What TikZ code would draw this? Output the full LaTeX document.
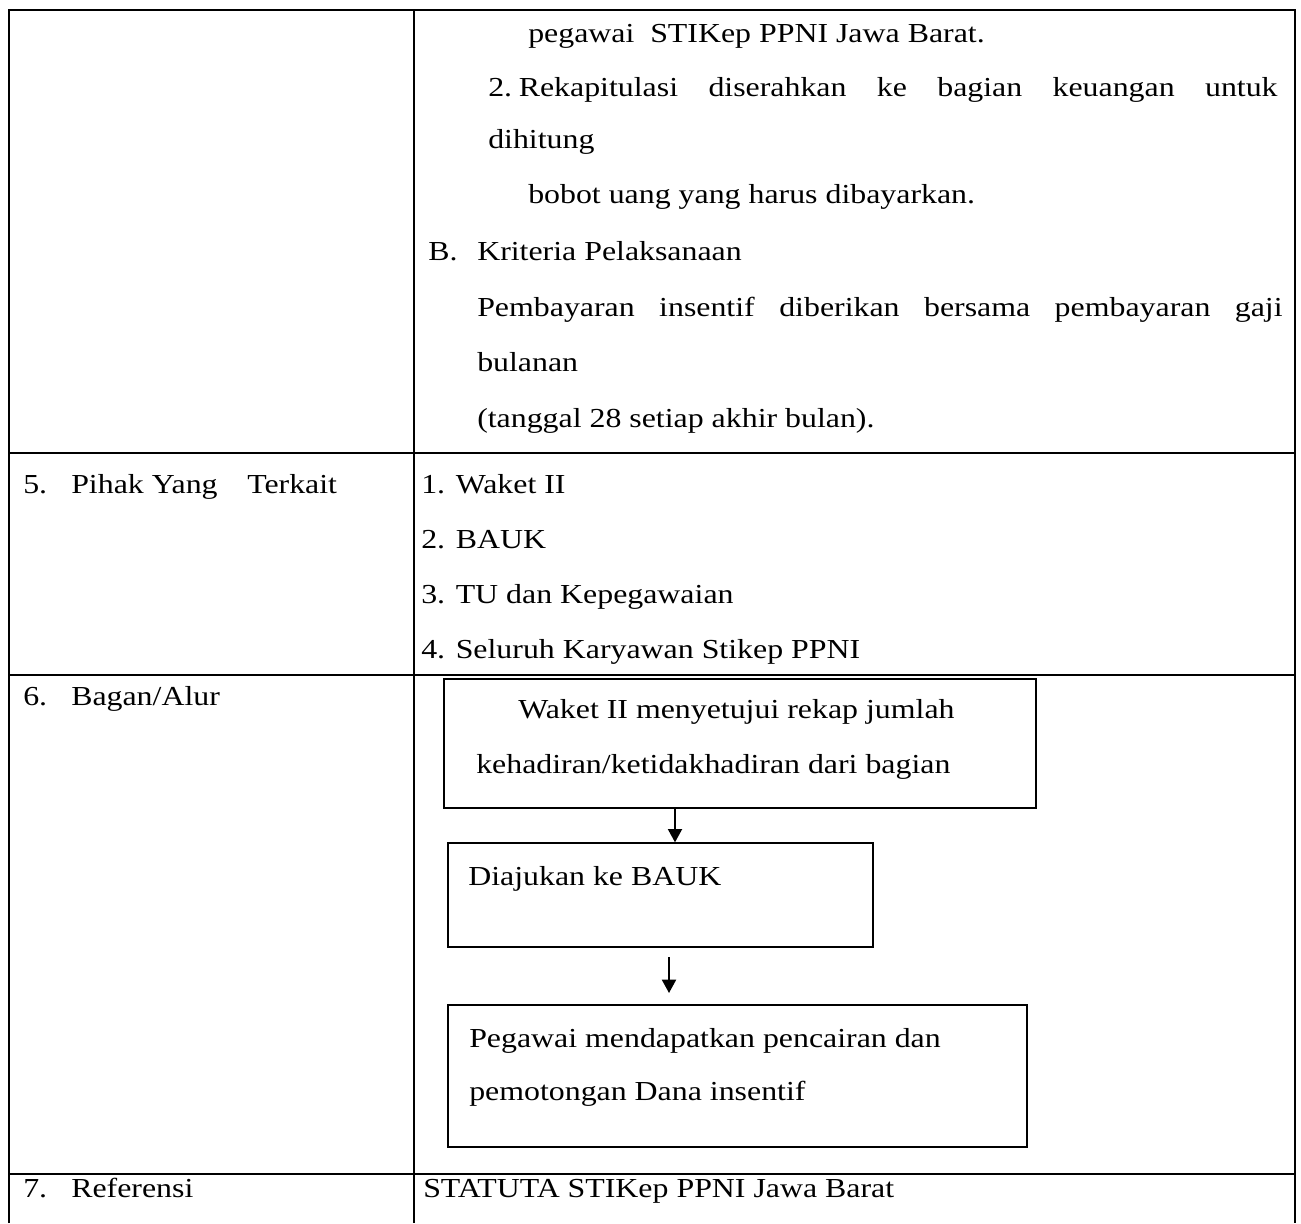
\documentclass[tikz,border=0pt]{standalone}
\usepackage{fontspec}
\setmainfont{Liberation Serif}[FakeStretch=1.16]
\usetikzlibrary{fit,arrows.meta}
\begin{document}
\begin{tikzpicture}[x=0.75pt,y=-0.75pt,
  txt/.style={anchor=base west,inner sep=0pt,font=\fontsize{20.6}{25}\selectfont},
  grid/.style={line width=1.5pt},
  flowbox/.style={draw,line width=1pt,inner sep=0pt},
  arr/.style={line width=1.5pt,-{Triangle[width=10.5pt,length=10pt]}}]
\useasboundingbox (0,0) rectangle (1301,1223);

% table rules
\draw[grid] (9,1223) -- (9,10.5) -- (1295,10.5) -- (1295,1223);
\draw[grid] (414,10.5) -- (414,1223);
\draw[grid] (9,453) -- (1295,453);
\draw[grid] (9,675) -- (1295,675);
\draw[grid] (9,1174) -- (1295,1174);

% continued section text
\node[txt] (t1a) at (528,43) {pegawai};
\node[txt] (t1b) at (650,43) {STIKep PPNI Jawa Barat.};
\node[txt] (t2) at (488,97) {\makebox[592pt][s]{2.\hspace{5pt}Rekapitulasi diserahkan ke bagian keuangan untuk}};
\node[txt] (t3) at (488,149) {dihitung};
\node[txt] (t4) at (528,204) {bobot uang yang harus dibayarkan.};
\node[txt] (t5a) at (428,260) {B.};
\node[txt] (t5b) at (477,260) {Kriteria Pelaksanaan};
\node[txt] (t6) at (477,316) {\makebox[604pt][s]{Pembayaran insentif diberikan bersama pembayaran gaji}};
\node[txt] (t7) at (477,371) {bulanan};
\node[txt] (t8) at (477,427) {(tanggal 28 setiap akhir bulan).};

% row 5
\node[txt] (n5) at (23,493) {5.};
\node[txt] (h5a) at (71,493) {Pihak Yang};
\node[txt] (h5b) at (247,493) {Terkait};
\node[txt] (p1) at (421,493) {1. Waket II};
\node[txt] (p2) at (421,548) {2. BAUK};
\node[txt] (p3) at (421,603) {3. TU dan Kepegawaian};
\node[txt] (p4) at (421,658) {4. Seluruh Karyawan Stikep PPNI};

% row 6
\node[txt] (n6) at (23,705) {6.};
\node[txt] (h6) at (71,705) {Bagan/Alur};

\node[flowbox, fit={(444,679) (1036,808)}] (b1) {};
\node[txt] (b1l1) at (518,718) {Waket II menyetujui rekap jumlah};
\node[txt] (b1l2) at (476,773) {kehadiran/ketidakhadiran dari bagian};

\node[flowbox, fit={(448,843) (873,947)}] (b2) {};
\node[txt] (b2l1) at (468,885) {Diajukan ke BAUK};

\node[flowbox, fit={(448,1005) (1027,1147)}] (b3) {};
\node[txt] (b3l1) at (469,1047) {Pegawai mendapatkan pencairan dan};
\node[txt] (b3l2) at (469,1100) {pemotongan Dana insentif};

\coordinate (a1) at (675,808);
\draw[arr] (a1) -- (b2.north -| a1);
\coordinate (a2s) at (669,957);
\coordinate (a2e) at (669,993);
\draw[arr] (a2s) -- (a2e);

% row 7
\node[txt] (n7) at (23,1197) {7.};
\node[txt] (h7) at (71,1197) {Referensi};
\node[txt] (r7) at (423,1197) {STATUTA STIKep PPNI Jawa Barat};
\end{tikzpicture}
\end{document}
